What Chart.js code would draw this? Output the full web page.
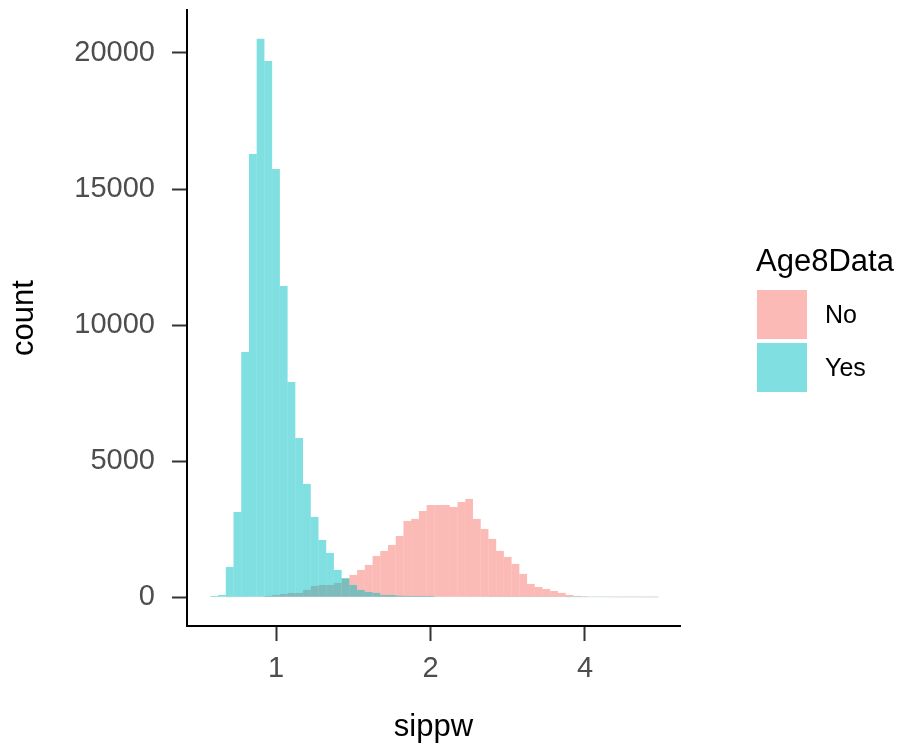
<!DOCTYPE html>
<html>
<head>
<meta charset="utf-8">
<script src="https://cdn.jsdelivr.net/npm/chart.js@4.4.0/dist/chart.umd.min.js"></script>
<style>
	body { margin: 0; background: #fff; }
	.wrap { position: relative; width: 901px; height: 750px; font-family: "Liberation Sans", Arial, sans-serif; }
	.legend-title { position: absolute; left: 756px; top: 245px; font-size: 31px; line-height: 1; color: #000; }
	.legend-key { position: absolute; left: 757px; width: 50px; height: 49px; }
	.legend-label { position: absolute; left: 825px; height: 49px; line-height: 49px; font-size: 25px; color: #000; }
</style>
</head>
<body>
<div class="wrap">
	<canvas id="chart" width="901" height="750"></canvas>
	<div class="legend-title">Age8Data</div>
	<div class="legend-key" style="top: 290px; background: rgba(248, 118, 109, 0.5)"></div>
	<div class="legend-label" style="top: 290px">No</div>
	<div class="legend-key" style="top: 343px; background: rgba(0, 191, 196, 0.5)"></div>
	<div class="legend-label" style="top: 343px">Yes</div>
</div>
<script>
// histogram bins are equal width on a log2(sippw) axis
const binStartLog2 = -0.425;
const binWidthLog2 = 0.05;

// counts per bin (58 bins)
const yesCounts = [
	49, 86, 1115, 3136, 9016, 16293, 20519, 19710, 15741, 11442,
	7914, 5856, 4165, 2952, 2107, 1629, 1005, 710, 453, 270,
	196, 159, 86, 86, 61, 49, 49, 49, 49, 14,
	14, 14, 14, 14, 14, 14, 10, 10, 10, 10,
	10, 10, 10, 10, 10, 10, 6, 6, 6, 6,
	6, 6, 6, 6, 6, 6, 6, 6
];
const noCounts = [
	0, 0, 4, 6, 8, 10, 15, 49, 86, 122,
	159, 159, 270, 417, 453, 453, 527, 674, 821, 1005,
	1188, 1519, 1703, 1923, 2254, 2805, 2879, 3173, 3393, 3393,
	3393, 3320, 3504, 3614, 2879, 2511, 2144, 1703, 1482, 1225,
	858, 490, 380, 306, 233, 160, 86, 49, 37, 10,
	8, 6, 5, 4, 3, 3, 2, 2
];

const xTicks = [1, 2, 4];
const yTicks = [0, 5000, 10000, 15000, 20000];

const binCenters = yesCounts.map((_, i) => binStartLog2 + binWidthLog2 * (i + 0.5));
const toPoints = counts => counts.map((c, i) => ({ x: binCenters[i], y: c }));

const tickFont = { family: "'Liberation Sans', Arial, sans-serif", size: 29 };
const titleFont = { family: "'Liberation Sans', Arial, sans-serif", size: 31 };

new Chart(document.getElementById("chart"), {
	type: "bar",
	data: {
		datasets: [
			{
				label: "No",
				data: toPoints(noCounts),
				backgroundColor: "rgba(248, 118, 109, 0.5)",
				order: 1
			},
			{
				label: "Yes",
				data: toPoints(yesCounts),
				backgroundColor: "rgba(0, 191, 196, 0.5)",
				order: 0
			}
		]
	},
	options: {
		responsive: false,
		animation: false,
		devicePixelRatio: 1,
		layout: { padding: { left: 0, top: 10, right: 221, bottom: 0 } },
		datasets: {
			bar: {
				grouped: false,
				barPercentage: 1,
				categoryPercentage: 1,
				borderWidth: 0,
				inflateAmount: 0
			}
		},
		plugins: {
			legend: { display: false },
			tooltip: { enabled: false }
		},
		scales: {
			x: {
				type: "linear",
				offset: false,
				min: -0.5761,
				max: 2.6149,
				afterBuildTicks(scale) {
					scale.ticks = xTicks.map(v => ({ value: Math.log2(v) }));
				},
				afterFit(scale) {
					scale.height = 124;
					scale.paddingLeft = 0;
					scale.paddingRight = 0;
				},
				ticks: {
					font: tickFont,
					color: "#4D4D4D",
					padding: 11,
					maxRotation: 0,
					autoSkip: false,
					callback: v => String(Math.round(Math.pow(2, v)))
				},
				grid: {
					offset: false,
					drawOnChartArea: false,
					tickLength: 15,
					tickColor: "#333333",
					tickWidth: 2
				},
				border: { display: true, color: "#000", width: 2 },
				title: {
					display: true,
					text: "sippw",
					font: titleFont,
					color: "#000",
					padding: { top: 0, bottom: 4 }
				}
			},
			y: {
				type: "linear",
				min: -1055,
				max: 21580,
				afterBuildTicks(scale) {
					scale.ticks = yTicks.map(v => ({ value: v }));
				},
				afterFit(scale) {
					scale.width = 187;
					scale.paddingTop = 0;
					scale.paddingBottom = 0;
				},
				ticks: {
					font: tickFont,
					color: "#4D4D4D",
					padding: 17,
					callback: v => String(v)
				},
				grid: {
					drawOnChartArea: false,
					tickLength: 15,
					tickColor: "#333333",
					tickWidth: 2
				},
				border: { display: true, color: "#000", width: 2 },
				title: {
					display: true,
					text: "count",
					font: titleFont,
					color: "#000",
					padding: { top: 6, bottom: 0 }
				}
			}
		}
	}
});
</script>
</body>
</html>
